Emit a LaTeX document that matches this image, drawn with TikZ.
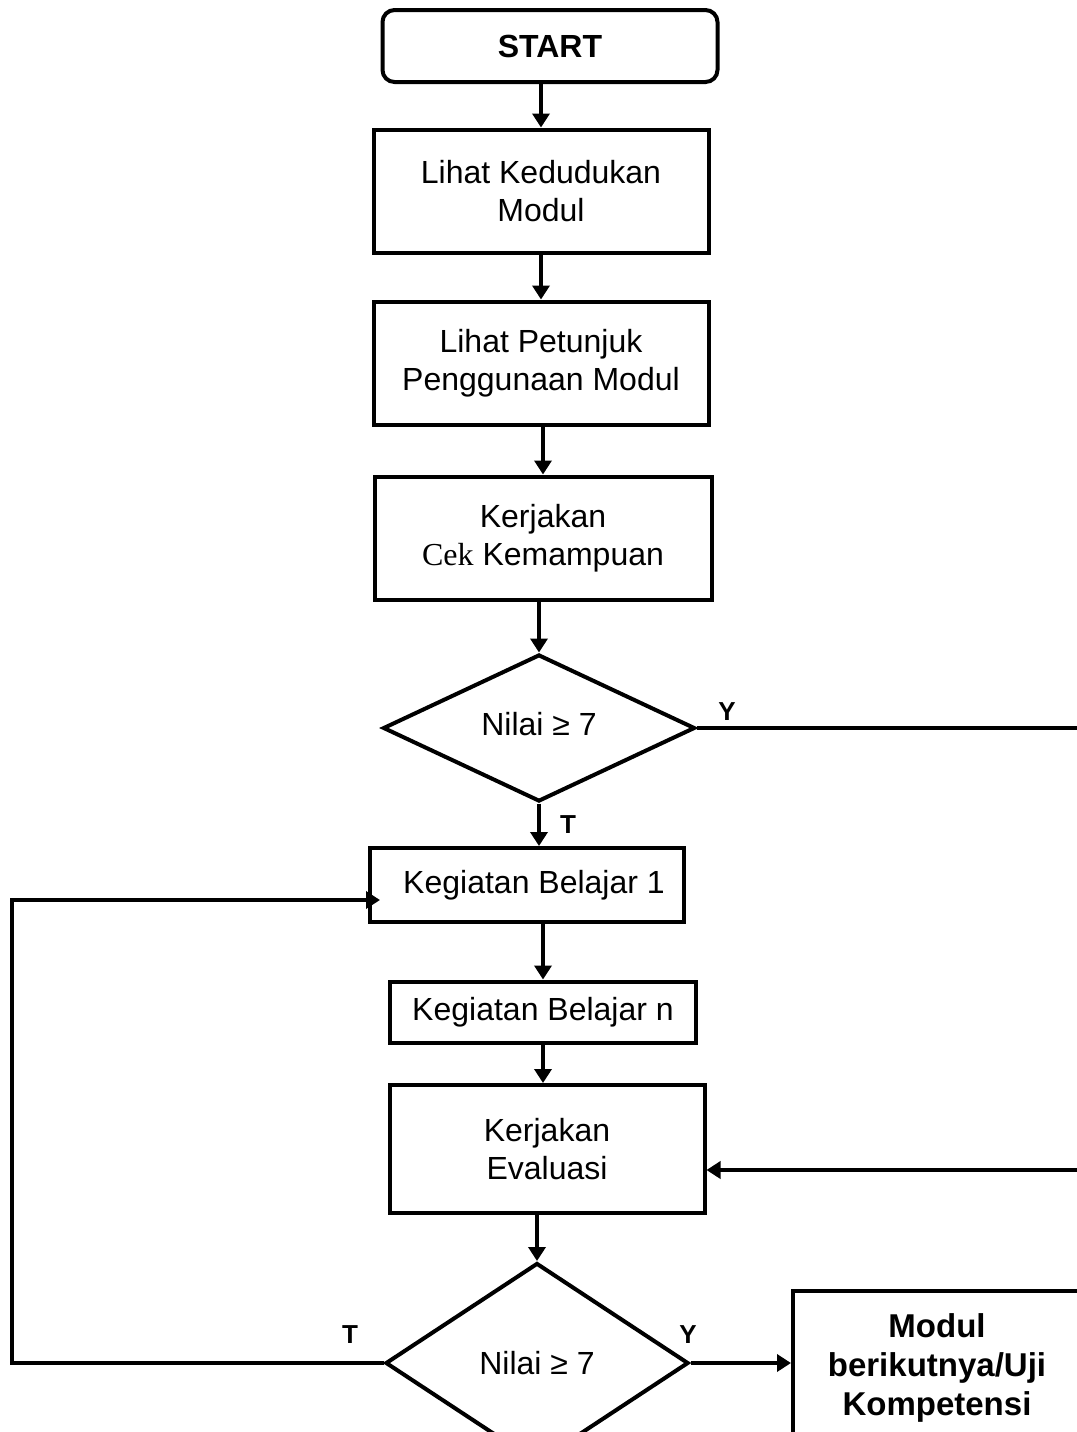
\documentclass[tikz,border=0pt]{standalone}
\usepackage{fontspec}
\setmainfont{Liberation Sans}
\newfontfamily\serifcek{Liberation Serif}
\usetikzlibrary{arrows.meta,shapes.geometric,positioning}

\begin{document}
\begin{tikzpicture}[x = 0.5pt, y = -0.5pt,
  every node/.style = {font = \fontsize{16}{19}\selectfont, align = center},
  proc/.style = {draw, line width = 2pt, minimum width = 167.5pt, minimum height = 61.5pt, inner sep = 0pt},
  term/.style = {proc, rounded corners = 6pt, minimum height = 36pt, font = \fontsize{16}{19}\selectfont\bfseries},
  decide/.style = {draw, diamond, line width = 2pt, inner sep = 0pt},
  flow/.style = {-{Triangle[length = 7pt, width = 8.5pt]}, line width = 2pt},
  lbl/.style = {font = \fontsize{13}{15}\selectfont\bfseries}]
  \useasboundingbox (0,0) rectangle (1077,1432);
  \fill[white] (0,0) rectangle (1077,1432);
  \clip (0,0) rectangle (1077,1432);
  % boxes
  \node[term] (start) at (550,46) {START};
  \node[proc] (kedudukan) at (541,191) {Lihat Kedudukan\\Modul};
  \node[proc] (petunjuk) at (541,363) {Lihat Petunjuk\\Penggunaan Modul};
  \node[proc, minimum width = 168.5pt] (cek) at (543,538) {Kerjakan\\{\serifcek Cek} Kemampuan};
  \node[decide, minimum width = 156pt, minimum height = 73.5pt] (nilai1) at (539,728) {\raisebox{4pt}{Nilai ≥ 7}};
  \node[proc, minimum width = 157pt, minimum height = 37pt] (kb1) at (527,885) {\hspace*{7pt}Kegiatan Belajar 1};
  \node[proc, minimum width = 153pt, minimum height = 30.5pt] (kbn) at (543,1012) {Kegiatan Belajar n};
  \node[proc, minimum width = 157.5pt, minimum height = 64pt] (evaluasi) at (547,1149) {Kerjakan\\Evaluasi};
  \node[decide, minimum width = 151.5pt, minimum height = 100pt] (nilai2) at (537,1363) {Nilai ≥ 7};
  \node[proc, minimum width = 144pt, minimum height = 77pt, font = \fontsize{16.5}{19.5}\selectfont\bfseries] (modul) at (937,1368) {Modul\\berikutnya/Uji\\Kompetensi};
  \coordinate (rightrail) at (1100,728);
  \coordinate (leftrail) at (12,1363);
  % arrows
  \draw[flow] (start.south -| kedudukan.north) -- (kedudukan.north);
  \draw[flow] (kedudukan.south) -- (petunjuk.north);
  \draw[flow] (petunjuk.south -| cek.north) -- (cek.north);
  \draw[flow] (cek.south -| nilai1.north) -- (nilai1.north);
  \draw[flow] (nilai1.south) -- (nilai1.south |- kb1.north);
  \draw[flow] (kb1.south -| kbn.north) -- (kbn.north);
  \draw[flow] (kbn.south) -- (kbn.south |- evaluasi.north);
  \draw[flow] (evaluasi.south -| nilai2.north) -- (nilai2.north);
  \draw[flow] (nilai2.east) -- (nilai2.east -| modul.west);
  \draw[flow] (nilai1.east) -- (rightrail) |- ([yshift = -10.5pt]evaluasi.east);
  \draw[flow, shorten > = -6pt] (nilai2.west) -- (leftrail) |- ([yshift = -7.5pt]kb1.west);
  % labels
  \node[lbl] (y1) at (727,712) {Y};
  \node[lbl] (t1) at (568,825) {T};
  \node[lbl] (t2) at (350,1335) {T};
  \node[lbl] (y2) at (688,1335) {Y};
\end{tikzpicture}
\end{document}
